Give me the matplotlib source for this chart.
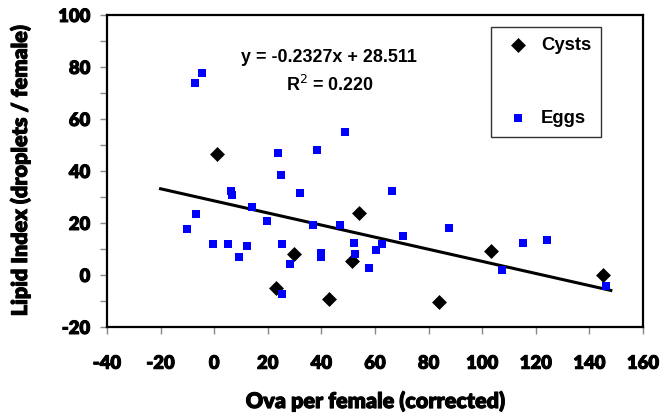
import matplotlib
matplotlib.use("Agg")
import matplotlib.pyplot as plt
import matplotlib.patheffects as pe
from matplotlib.ticker import MultipleLocator

plt.rcParams["axes.unicode_minus"] = False

# ova counts (corrected) and lipid index for the two groups
cysts_x = [0.9, 22.9, 29.9, 43.0, 51.6, 54.0, 83.9, 103.3, 145.2]
cysts_y = [46.7, -5.0, 8.1, -9.1, 5.2, 24.0, -10.4, 9.1, -0.1]

eggs_x = [-7.2, -4.5, 23.8, 24.9, 38.2, 48.8, 32.1, 6.2, 6.8,
          -10.0, -6.7, -0.6, 5.0, 9.4, 12.2, 14.2, 19.8, 25.4, 28.2, 25.4,
          37.0, 39.9, 39.9, 47.1, 52.0, 52.5,
          66.4, 57.6, 60.4, 62.6, 70.3, 87.6, 107.4, 115.2, 124.0, 146.2]
eggs_y = [73.8, 77.8, 47.1, 38.5, 48.2, 55.0, 31.5, 32.3, 30.7,
          17.8, 23.6, 12.1, 11.8, 7.1, 11.2, 26.2, 20.9, 11.8, 4.2, -7.2,
          19.1, 8.5, 6.9, 19.2, 12.3, 8.0,
          32.3, 2.6, 9.5, 11.8, 15.0, 18.0, 2.1, 12.3, 13.5, -4.3]

x_ticks = [-40, -20, 0, 20, 40, 60, 80, 100, 120, 140, 160]
y_ticks = [-20, 0, 20, 40, 60, 80, 100]

slope = -0.2327
intercept = 28.511
r2 = 0.220
fit_range = [-20, 148]

fig = plt.figure(figsize=(6.71, 4.13), dpi=100)
ax = fig.add_axes([107 / 671, 1 - 327 / 413, 536 / 671, 312 / 413])

ax.scatter(cysts_x, cysts_y, marker="D", s=7.6 ** 2, color="black",
           label="Cysts", zorder=3, linewidths=0)
ax.scatter(eggs_x, eggs_y, marker="s", s=6.4 ** 2, color="#0000ff",
           label="Eggs", zorder=3, linewidths=0)

fit_y = [slope * x + intercept for x in fit_range]
ax.plot(fit_range, fit_y, color="black", lw=2.2, zorder=2)

# thicker strokes so the Lato text reads as heavy as the original bold face
heavy = [pe.withStroke(linewidth=0.7, foreground="black")]

ax.set_xlim(-40, 160)
ax.set_ylim(-20, 100)
tick_font = {"family": "Lato", "weight": "heavy", "size": 13.3}
ax.set_xticks(x_ticks)
ax.set_xticklabels([str(t) for t in x_ticks], fontdict=tick_font, path_effects=heavy)
ax.set_yticks(y_ticks)
ax.set_yticklabels([str(t) for t in y_ticks], fontdict=tick_font, path_effects=heavy)
ax.yaxis.set_minor_locator(MultipleLocator(10))

for s in ax.spines.values():
    s.set_linewidth(1.6)
    s.set_color("black")

ax.tick_params(axis="both", which="both", direction="out", color="#888888",
               width=1, length=5)
ax.tick_params(axis="x", pad=15)
ax.tick_params(axis="y", pad=7)

label_font = {"family": "Lato", "weight": "heavy", "size": 15.5}
ax.set_xlabel("Ova per female (corrected)", fontdict=label_font, path_effects=heavy)
ax.set_ylabel("Lipid Index (droplets / female)", fontdict=label_font, path_effects=heavy)
ax.xaxis.set_label_coords(0.5, (327 - 390) / 312)
ax.yaxis.set_label_coords((31 - 107) / 536, 0.5)

eq_font = {"family": "Liberation Sans", "weight": "bold", "size": 12.9}
fig.text(329 / 671, 1 - 58 / 413, "y = %.4fx + %.3f" % (slope, intercept),
         ha="center", va="center", fontdict=eq_font)
fig.text(330 / 671, 1 - 85 / 413, "R$^{2}$ = %.3f" % r2,
         ha="center", va="center", fontdict=eq_font)

leg = ax.legend(loc="upper left", bbox_to_anchor=(491 / 671, 1 - 27 / 413),
                bbox_transform=fig.transFigure, borderaxespad=0,
                frameon=True, fancybox=False, handlelength=1.8,
                labelspacing=3.0, handletextpad=0.35, borderpad=0.55,
                prop={"family": "Liberation Sans", "weight": "bold", "size": 13.3})
leg.get_frame().set_edgecolor("black")
leg.get_frame().set_linewidth(1.0)

fig.savefig("out.png", dpi=100)
